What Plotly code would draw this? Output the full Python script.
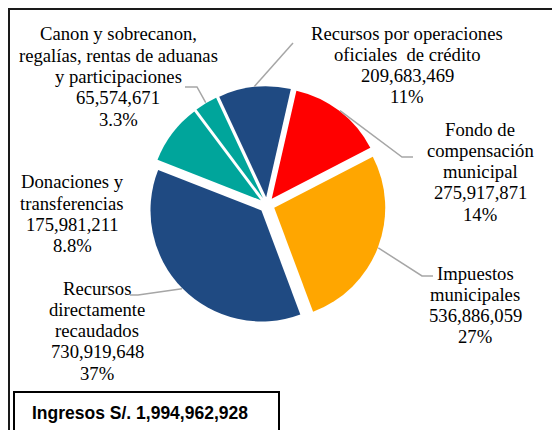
import math
import plotly.graph_objects as go

# ---------------- data ----------------
category_lines = [
    ["Recursos por operaciones", "oficiales\u00a0 de crédito"],
    ["Fondo de", "compensación", "municipal"],
    ["Impuestos", "municipales"],
    ["Recursos", "directamente", "recaudados"],
    ["Donaciones y", "transferencias"],
    ["Canon y sobrecanon,", "regalías, rentas de aduanas", "y participaciones"],
]
categories = [" ".join(l).replace("\u00a0", "") for l in category_lines]
values = [209683469, 275917871, 536886059, 730919648, 175981211, 65574671]
colors = ["#1F4A82", "#FF0000", "#FFA600", "#1F4A82", "#00A59B", "#00A59B"]
total_label = "Ingresos S/. 1,994,962,928"

# ---------------- layout helpers ----------------
# the page body has an 8px margin, so the figure is 552x422 and starts at (8, 8)
OFF = 8
W, H = 560 - OFF, 430 - OFF
def px(x):
    return (x - OFF) / W
def py(y):
    return 1 - (y - OFF) / H

ROT = -25          # start angle of first slice (deg, clockwise from 12 o'clock)
PULL = 0.07
CX, CY = 267, 205  # pie centre in window pixels
HALF = 118.75      # half size of pie domain in pixels
R = HALF / (1 + PULL)

fig = go.Figure()
fig.add_trace(go.Pie(
    labels=categories, values=values, sort=False, direction="clockwise",
    rotation=ROT, pull=PULL, textinfo="none", hoverinfo="label+value+percent",
    marker=dict(colors=colors, line=dict(width=0)),
    domain=dict(x=[px(CX - HALF), px(CX + HALF)], y=[py(CY + HALF), py(CY - HALF)]),
    showlegend=False,
))

# percentages (2 significant digits, as in the source)
tot = sum(values)
pcts = [f"{100 * v / tot:.2g}%" for v in values]

# label placement: (centre x px, first line y px)
label_pos = [(407, 33), (480, 129), (475, 273), (97, 288), (72, 182), (118, 34)]
LINE = 21.3
SERIF = "Times New Roman"

annotations = []
for i, (lines, v, p) in enumerate(zip(category_lines, values, pcts)):
    all_lines = lines + [f"{v:,}", p]
    x0, y0 = label_pos[i]
    for k, t in enumerate(all_lines):
        annotations.append(dict(
            x=px(x0), y=py(y0 + k * LINE), xref="paper", yref="paper",
            text=t, showarrow=False, xanchor="center", yanchor="middle",
            font=dict(family=SERIF, size=18.67, color="black"),
        ))

# leader lines: start at slice edge (from data angles), then elbow / end (layout)
leader = {
    0: [(293, 43)],
    1: [(402, 157), (413, 157)],
    2: [(422, 276), (433, 276)],
    3: [(138, 295), (130, 295)],
    5: [(197, 87), (185, 87)],
}
shapes = []
cum = 0
for i, v in enumerate(values):
    mid = ROT + 360 * (cum + v / 2) / tot
    cum += v
    if i not in leader:
        continue
    a = math.radians(mid)
    rr = R * (1 + PULL) + 0.5
    sx, sy = CX + rr * math.sin(a), CY - rr * math.cos(a)
    pts = [(sx, sy)] + leader[i]
    path = "M " + " L ".join(f"{px(x):.5f},{py(y):.5f}" for x, y in pts)
    shapes.append(dict(type="path", path=path, xref="paper", yref="paper",
                       line=dict(color="#A6A6A6", width=1.5)))

# outer frame and total box
shapes.append(dict(type="rect", xref="paper", yref="paper",
                   x0=px(9), x1=px(580), y0=py(9), y1=py(450),
                   line=dict(color="#1a1a1a", width=2)))
shapes.append(dict(type="rect", xref="paper", yref="paper",
                   x0=px(14), x1=px(279), y0=py(392), y1=py(450),
                   line=dict(color="#000000", width=2)))
annotations.append(dict(
    x=px(140), y=py(413), xref="paper", yref="paper", text=f"<b>{total_label}</b>",
    showarrow=False, xanchor="center", yanchor="middle",
    font=dict(family="Liberation Sans", size=17.5, color="black"),
))

fig.update_layout(
    width=W, height=H, autosize=False,
    margin=dict(l=0, r=0, t=0, b=0),
    font=dict(family=SERIF, size=18.67, color="black"),
    paper_bgcolor="white", plot_bgcolor="white",
    annotations=annotations, shapes=shapes,
)
fig.write_html("out.html")
